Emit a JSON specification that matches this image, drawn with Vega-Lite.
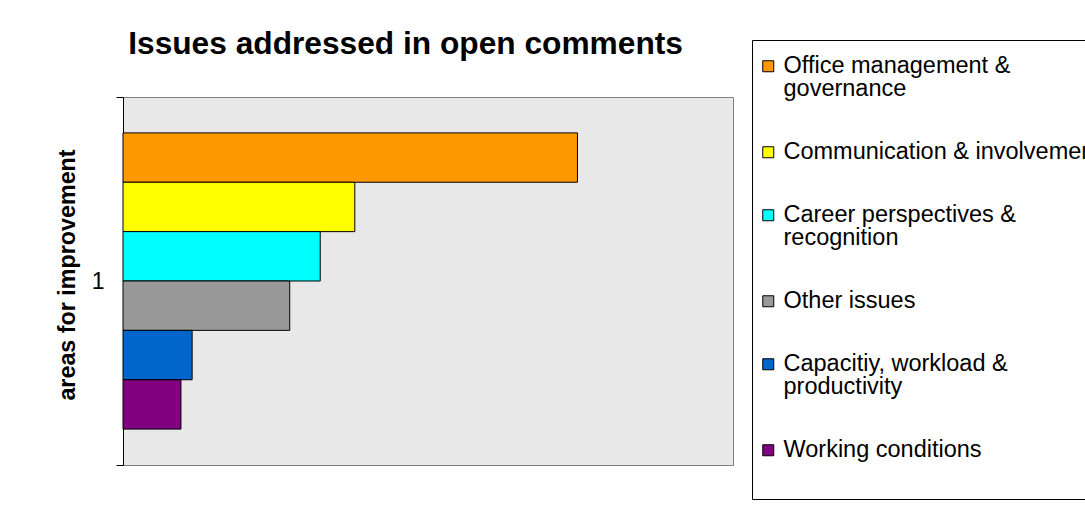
{
  "$schema": "https://vega.github.io/schema/vega-lite/v6.json",
  "width": 610,
  "height": 368,
  "autosize": {"type": "none"},
  "padding": {"left": 123, "top": 97, "right": 352, "bottom": 52},
  "background": "white",
  "title": {
    "text": "Issues addressed in open comments",
    "anchor": "start",
    "dx": 73,
    "offset": -21,
    "font": "Liberation Sans",
    "fontSize": 31.7,
    "fontWeight": "bold",
    "color": "black"
  },
  "data": {
    "values": [
      {"category": "1", "issue": "Office management & governance", "count": 44.7},
      {"category": "1", "issue": "Communication & involvement", "count": 22.8},
      {"category": "1", "issue": "Career perspectives & recognition", "count": 19.4},
      {"category": "1", "issue": "Other issues", "count": 16.4},
      {"category": "1", "issue": "Capacitiy, workload & productivity", "count": 6.8},
      {"category": "1", "issue": "Working conditions", "count": 5.7}
    ]
  },
  "mark": {"type": "bar", "stroke": "black", "strokeWidth": 1},
  "encoding": {
    "y": {
      "field": "category",
      "type": "nominal",
      "scale": {"paddingInner": 0, "paddingOuter": 0},
      "axis": {
        "title": "areas for improvement",
        "labelAngle": 0,
        "tickBand": "extent",
        "tickSize": 7,
        "tickColor": "black",
        "domainColor": "black",
        "labelPadding": 12,
        "labelFont": "Liberation Sans",
        "labelFontSize": 23,
        "labelColor": "black",
        "titleFont": "Liberation Sans",
        "titleFontSize": 23.3,
        "titleFontWeight": "bold",
        "titleColor": "black",
        "titlePadding": 12,
        "titleY": 177.5,
        "grid": false
      }
    },
    "yOffset": {
      "field": "issue",
      "type": "nominal",
      "sort": ["Office management & governance", "Communication & involvement", "Career perspectives & recognition", "Other issues", "Capacitiy, workload & productivity", "Working conditions"],
      "scale": {"paddingInner": 0, "paddingOuter": 0.727}
    },
    "x": {
      "field": "count",
      "type": "quantitative",
      "scale": {"domain": [0, 60]},
      "axis": null
    },
    "color": {
      "field": "issue",
      "type": "nominal",
      "scale": {
        "domain": ["Office management & governance", "Communication & involvement", "Career perspectives & recognition", "Other issues", "Capacitiy, workload & productivity", "Working conditions"],
        "range": ["#FF9900", "#FFFF00", "#00FFFF", "#999999", "#0066CC", "#800080"]
      },
      "legend": {
        "orient": "none",
        "legendX": 629,
        "legendY": -57,
        "title": " ",
        "titleOrient": "bottom",
        "titleFontSize": 10,
        "titlePadding": 13,
        "strokeColor": "black",
        "fillColor": "white",
        "padding": 14.5,
        "symbolType": "square",
        "symbolSize": 121,
        "symbolStrokeColor": "black",
        "symbolStrokeWidth": 1,
        "symbolOpacity": 1,
        "symbolOffset": -10,
        "labelFont": "Liberation Sans",
        "labelFontSize": 23.5,
        "labelColor": "black",
        "labelLimit": 500,
        "labelOffset": 3.5,
        "rowPadding": 38,
        "labelExpr": "datum.label === 'Office management & governance' ? ['Office management &', 'governance'] : datum.label === 'Career perspectives & recognition' ? ['Career perspectives &', 'recognition'] : datum.label === 'Capacitiy, workload & productivity' ? ['Capacitiy, workload &', 'productivity'] : datum.label",
        "encode": {"labels": {"update": {"lineHeight": {"value": 23}}}}
      }
    }
  },
  "config": {
    "view": {"fill": "#E8E8E8", "stroke": "#808080", "strokeWidth": 1}
  }
}
